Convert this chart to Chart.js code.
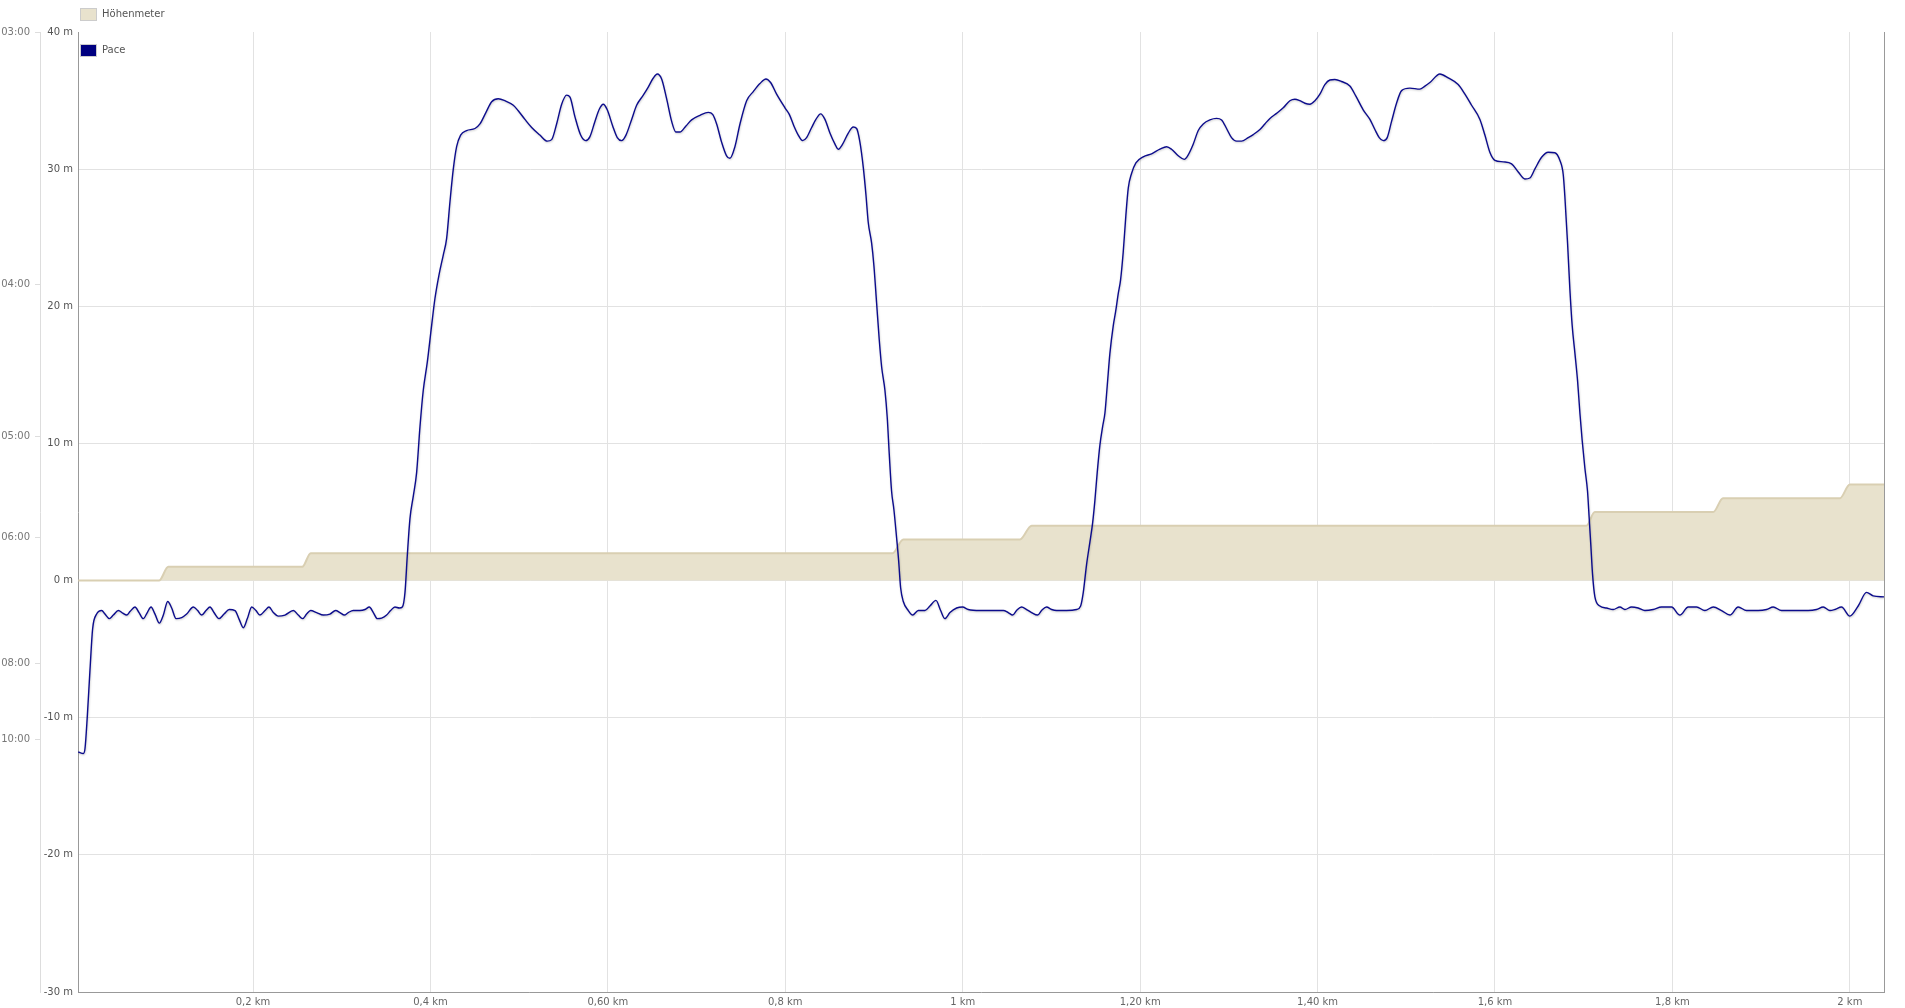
<!DOCTYPE html>
<html>
<head>
<meta charset="utf-8">
<script src="https://cdn.jsdelivr.net/npm/chart.js@4"></script>
<style>
  html, body { margin: 0; padding: 0; background: #fff; }
  #wrap { position: relative; width: 1905px; height: 1008px; }
  #legend { position: absolute; left: 80px; top: 7px; font-family: 'DejaVu Sans', Verdana, sans-serif; font-size: 10px; color: #555; }
  .li { position: absolute; left: 0; white-space: nowrap; height: 14px; line-height: 14px; }
  .sw { display: inline-block; width: 15px; height: 11px; border: 1px solid #ccc; vertical-align: middle; margin-right: 5px; }
  .li span.t { vertical-align: middle; }
</style>
</head>
<body>
<div id="wrap">
  <canvas id="c" width="1905" height="1008"></canvas>
  <div id="legend"></div>
</div>
<script>
// ---- Data ----
const seriesNames = ['Höhenmeter', 'Pace'];

// Höhenmeter (altitude) profile: distance [km] and altitude [m]
const altKm = [0.003, 0.094, 0.1045, 0.2555, 0.265, 0.921, 0.933, 1.0645, 1.0777, 1.703, 1.7125, 1.846, 1.857, 1.9888, 2.0, 2.0385];
const altM  = [0, 0, 1, 1, 2, 2, 3, 3, 4, 4, 5, 5, 6, 6, 7, 7];

// Pace series: distance [km] and speed [km/h] (axis labelled as pace min/km)
const paceKm = [
0.003,0.0087,0.0106,0.0132,0.0162,0.0192,0.0237,0.0294,0.0331,0.0380,0.0425,0.0482,0.0531,0.0576,0.0613,0.0669,0.0715,0.0763,0.0808,0.0850,
0.0895,0.0944,0.0989,0.1038,0.1083,0.1132,0.1196,0.1252,0.1327,0.1376,0.1421,0.1470,0.1515,0.1560,0.1616,0.1673,0.1733,0.1797,0.1845,0.1890,
0.1936,0.1985,0.2033,0.2078,0.2135,0.2180,0.2229,0.2285,0.2360,0.2454,0.2510,0.2559,0.2604,0.2649,0.2717,0.2792,0.2867,0.2931,0.2980,0.3029,
0.3074,0.3130,0.3205,0.3262,0.3311,0.3356,0.3401,0.3450,0.3506,0.3551,0.3600,0.3649,0.3683,0.3713,0.3739,0.3769,0.3807,0.3844,0.3882,0.3919,
0.3964,0.4013,0.4051,0.4096,0.4145,0.4182,0.4220,0.4257,0.4295,0.4340,0.4408,0.4502,0.4558,0.4626,0.4690,0.4765,0.4840,0.4934,0.4990,
0.5065,0.5141,0.5234,0.5317,0.5366,0.5422,0.5479,0.5535,0.5573,0.5629,0.5693,0.5749,0.5798,0.5854,0.5903,0.5948,0.5993,0.6054,0.6106,0.6155,
0.6204,0.6268,0.6324,0.6399,0.6455,0.6512,0.6557,0.6606,0.6662,0.6719,0.6767,0.6812,0.6880,0.6944,0.7038,0.7132,0.7181,0.7226,0.7282,0.7338,
0.7376,0.7432,0.7489,0.7564,0.7639,0.7714,0.7782,0.7834,0.7902,0.7996,0.8045,0.8097,0.8146,0.8195,0.8240,0.8297,0.8345,0.8398,0.8447,0.8503,
0.8560,0.8597,0.8646,0.8710,0.8766,0.8804,0.8841,0.8879,0.8909,0.8935,0.8973,0.8999,0.9029,0.9059,0.9086,0.9123,0.9149,0.9172,0.9198,0.9224,
0.9254,0.9277,0.9300,0.9330,0.9386,0.9435,0.9499,0.9574,0.9630,0.9698,0.9751,0.9799,0.9856,0.9931,0.9998,1.0062,1.0194,
1.0269,1.0457,1.0513,1.0562,1.0607,1.0663,1.0720,1.0776,1.0844,1.0889,1.0945,1.1002,1.1058,1.1171,1.1283,1.1329,1.1359,1.1396,1.1434,1.1464,
1.1490,1.1516,1.1546,1.1577,1.1603,1.1629,1.1659,1.1697,1.1723,1.1753,1.1779,1.1809,1.1839,1.1866,1.1903,1.1952,1.2035,1.2129,1.2223,1.2298,
1.2354,1.2429,1.2497,1.2542,1.2598,1.2655,1.2711,1.2786,1.2861,1.2918,1.2974,1.3030,1.3087,1.3143,1.3218,1.3275,1.3350,1.3406,1.3463,1.3538,
1.3613,1.3688,1.3744,1.3801,1.3857,1.3913,1.3970,1.4026,1.4082,1.4139,1.4195,1.4270,1.4364,1.4432,1.4514,1.4590,1.4646,1.4695,1.4740,1.4785,
1.4834,1.4890,1.4947,1.5041,1.5153,1.5210,1.5266,
1.5379,1.5473,1.5585,1.5661,1.5736,1.5830,1.5886,1.5942,1.5999,1.6093,1.6187,1.6262,1.6337,1.6393,1.6450,1.6525,1.6600,1.6675,1.6731,1.6769,
1.6788,1.6818,1.6844,1.6870,1.6901,1.6931,1.6957,1.6983,1.7013,1.7043,1.7062,1.7081,1.7099,1.7126,1.7182,1.7257,1.7332,1.7408,1.7464,1.7539,
1.7614,1.7689,1.7783,1.7877,1.7990,1.8084,1.8178,1.8272,1.8366,1.8460,1.8554,1.8648,1.8741,1.8835,1.8967,1.9061,1.9136,1.9230,1.9380,1.9530,
1.9624,1.9700,1.9775,1.9831,1.9906,2.0000,2.0094,2.0188,2.0263,2.0385
];
const paceKmh = [
5.75,5.72,5.82,6.46,7.37,8.19,8.48,8.55,8.48,8.39,8.46,8.55,8.50,8.46,8.53,8.62,8.51,8.39,8.51,8.62,
8.48,8.30,8.46,8.73,8.60,8.39,8.41,8.48,8.62,8.55,8.46,8.55,8.62,8.51,8.39,8.48,8.57,8.55,8.37,8.21,
8.39,8.62,8.55,8.46,8.55,8.62,8.51,8.44,8.46,8.55,8.46,8.39,8.48,8.55,8.51,8.46,8.48,8.55,8.51,8.46,
8.51,8.55,8.55,8.57,8.62,8.51,8.39,8.40,8.46,8.55,8.62,8.60,8.62,8.91,9.64,10.37,10.82,11.28,12.19,12.91,
13.46,14.19,14.73,15.19,15.59,15.91,16.64,17.28,17.73,17.96,18.05,18.09,18.18,18.41,18.62,18.68,18.64,18.55,18.44,
18.27,18.11,17.96,17.84,17.87,18.18,18.57,18.75,18.71,18.32,17.96,17.85,17.93,18.23,18.47,18.57,18.46,18.14,17.91,17.85,
17.96,18.27,18.55,18.75,18.91,19.09,19.17,19.07,18.68,18.23,18.02,18.02,18.14,18.26,18.35,18.41,18.37,18.18,17.82,17.55,
17.50,17.73,18.18,18.64,18.82,18.98,19.07,19.00,18.77,18.50,18.37,18.14,17.96,17.85,17.91,18.11,18.27,18.38,18.27,18.00,
17.78,17.68,17.78,18.00,18.12,18.09,17.82,17.32,16.78,16.23,15.82,15.37,14.64,13.91,13.37,12.91,12.37,11.64,10.91,10.55,
10.00,9.55,9.00,8.73,8.55,8.46,8.55,8.55,8.64,8.75,8.55,8.39,8.51,8.60,8.62,8.57,8.55,
8.55,8.55,8.51,8.46,8.55,8.62,8.57,8.51,8.46,8.55,8.62,8.57,8.55,8.55,8.57,8.64,8.91,9.46,9.91,10.28,
10.73,11.28,11.82,12.19,12.46,13.00,13.64,14.19,14.46,14.82,15.09,15.64,16.37,16.91,17.20,17.41,17.53,17.59,17.68,17.73,
17.68,17.55,17.48,17.57,17.78,18.05,18.18,18.26,18.29,18.26,18.09,17.91,17.84,17.84,17.91,17.97,18.07,18.18,18.29,18.39,
18.50,18.64,18.67,18.64,18.59,18.57,18.64,18.77,18.96,19.05,19.06,19.02,18.93,18.73,18.46,18.27,18.07,17.91,17.85,17.91,
18.23,18.59,18.84,18.89,18.87,18.93,19.00,
19.17,19.09,18.96,18.77,18.55,18.27,17.96,17.62,17.46,17.43,17.39,17.23,17.09,17.11,17.29,17.52,17.62,17.61,17.46,17.18,
16.73,15.82,14.91,14.19,13.64,13.09,12.46,11.91,11.37,10.91,10.37,9.82,9.28,8.82,8.64,8.60,8.57,8.62,8.57,8.62,
8.60,8.55,8.57,8.62,8.62,8.46,8.62,8.62,8.55,8.62,8.55,8.46,8.62,8.55,8.55,8.57,8.62,8.55,8.55,8.55,
8.57,8.62,8.55,8.57,8.62,8.44,8.64,8.91,8.84,8.82
];

// Tick definitions
const xTickValues = [0.2, 0.4, 0.6, 0.8, 1.0, 1.2, 1.4, 1.6, 1.8, 2.0];
const xTickLabels = ['0,2 km', '0,4 km', '0,60 km', '0,8 km', '1 km', '1,20 km', '1,40 km', '1,6 km', '1,8 km', '2 km'];
const paceTickValues = [20, 15, 12, 10, 7.5, 6];          // km/h
const paceTickLabels = ['03:00', '04:00', '05:00', '06:00', '08:00', '10:00'];
const altTickValues = [-30, -20, -10, 0, 10, 20, 30, 40];

const colors = { alt: '#e8e2cd', altBorder: '#d9cfb2', pace: '#0c0c8c', paceLegend: '#000080' };

// ---- Legend (HTML) ----
const legend = document.getElementById('legend');
[[seriesNames[0], colors.alt, 0], [seriesNames[1], colors.paceLegend, 36]].forEach(([name, col, top]) => {
  const d = document.createElement('div');
  d.className = 'li';
  d.style.top = top + 'px';
  d.innerHTML = '<span class="sw" style="background:' + col + '"></span><span class="t">' + name + '</span>';
  legend.appendChild(d);
});

// ---- Chart ----
Chart.defaults.font.family = "'DejaVu Sans', Verdana, sans-serif";
Chart.defaults.font.size = 10;
Chart.defaults.color = '#666';

const shadowPlugin = {
  id: 'lineShadow',
  beforeDatasetDraw(chart, args) {
    if (args.index === 0) {
      const ctx = chart.ctx;
      ctx.save();
      ctx.shadowColor = 'rgba(0,0,0,0.22)';
      ctx.shadowBlur = 2;
      ctx.shadowOffsetX = 0.5;
      ctx.shadowOffsetY = 1;
    }
  },
  afterDatasetDraw(chart, args) {
    if (args.index === 0) chart.ctx.restore();
  }
};

const framePlugin = {
  id: 'frame',
  afterDraw(chart) {
    const { ctx, chartArea } = chart;
    ctx.save();
    ctx.strokeStyle = '#999';
    ctx.lineWidth = 1;
    ctx.beginPath();
    ctx.moveTo(Math.round(chartArea.right) + 0.5, chartArea.top);
    ctx.lineTo(Math.round(chartArea.right) + 0.5, chartArea.bottom);
    ctx.stroke();
    ctx.restore();
  }
};

new Chart(document.getElementById('c'), {
  type: 'line',
  data: {
    datasets: [
      {
        label: seriesNames[1],
        data: paceKm.map((x, i) => ({ x: x, y: paceKmh[i] })),
        yAxisID: 'pace',
        borderColor: colors.pace,
        borderWidth: 1.4,
        pointRadius: 0,
        fill: false,
        cubicInterpolationMode: 'monotone',
        order: 1
      },
      {
        label: seriesNames[0],
        data: altKm.map((x, i) => ({ x: x, y: altM[i] })),
        yAxisID: 'alt',
        borderColor: colors.altBorder,
        backgroundColor: colors.alt,
        borderWidth: 2,
        pointRadius: 0,
        fill: 'origin',
        cubicInterpolationMode: 'monotone',
        order: 2
      }
    ]
  },
  options: {
    responsive: false,
    animation: false,
    layout: { padding: { top: 32, right: 21, left: 0, bottom: 0 } },
    plugins: { legend: { display: false }, tooltip: { enabled: false } },
    scales: {
      x: {
        type: 'linear',
        min: 0.0027,
        max: 2.0385,
        afterBuildTicks: (s) => { s.ticks = xTickValues.map(v => ({ value: v })); },
        afterFit: (s) => { s.height = 16; },
        ticks: {
          padding: 4,
          color: '#666',
          callback: (v, i) => xTickLabels[i]
        },
        grid: { color: '#e2e2e2', drawTicks: false },
        border: { color: '#999' }
      },
      pace: {
        type: 'linear',
        position: 'left',
        weight: 2,
        min: 1,
        max: 20,
        afterBuildTicks: (s) => { s.ticks = paceTickValues.map(v => ({ value: v })); },
        afterFit: (s) => { s.width = 40; },
        ticks: {
          padding: 5,
          color: '#777',
          callback: (v, i) => paceTickLabels[i]
        },
        grid: { drawOnChartArea: false, drawTicks: true, tickLength: 5, tickColor: '#ddd', color: '#ddd' },
        border: { color: '#ddd' }
      },
      alt: {
        type: 'linear',
        position: 'left',
        weight: 1,
        min: -30,
        max: 40,
        afterBuildTicks: (s) => { s.ticks = altTickValues.map(v => ({ value: v })); },
        afterFit: (s) => { s.width = 38; },
        ticks: {
          padding: 5,
          color: '#555',
          callback: (v) => v + ' m'
        },
        grid: {
          drawTicks: false,
          color: (c) => (c.tick && c.tick.value === 40) ? 'rgba(0,0,0,0)' : '#e2e2e2'
        },
        border: { color: '#999' }
      }
    }
  },
  plugins: [shadowPlugin, framePlugin]
});
</script>
</body>
</html>
